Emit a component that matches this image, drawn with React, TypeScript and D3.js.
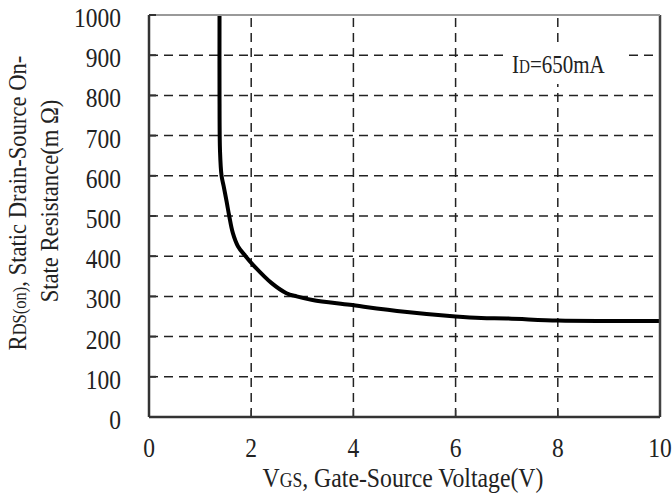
import React from "react";
import * as d3 from "d3";

const vgs = [1.38, 1.38, 1.39, 1.42, 1.46, 1.52, 1.57, 1.64, 1.74, 1.89, 2.04, 2.4, 2.69, 2.89, 3.2, 3.93, 5.0, 6.0, 6.5, 7.0, 8.0, 9.0, 10.0];
const rds = [1000, 800, 660, 600, 575, 535, 500, 458, 425, 400, 378, 333, 308, 300, 291, 279, 262, 250, 246, 245, 240, 239, 239];
const xTicks = [0, 2, 4, 6, 8, 10];
const yTicks = [0, 100, 200, 300, 400, 500, 600, 700, 800, 900, 1000];

const W = 672, H = 499;
const L = 149, R = 660, T = 15, B = 417;
const FONT = "'Liberation Serif', 'Times New Roman', serif";

export default function App() {
  const x = d3.scaleLinear().domain([0, 10]).range([L, R]);
  const y = d3.scaleLinear().domain([0, 1000]).range([B, T]);
  const pts = vgs.map((v, i) => [v, rds[i]] as [number, number]);
  const line = d3.line<[number, number]>().x(d => x(d[0])).y(d => y(d[1])).curve(d3.curveCatmullRom.alpha(0.5));

  return (
    <svg width={W} height={H} style={{ position: "absolute", left: 0, top: 0, background: "#fff" }} fontFamily={FONT}>
      <rect x={0} y={0} width={W} height={H} fill="#fff" />
      {/* gridlines */}
      {yTicks.filter(t => t > 0 && t < 1000).map(t => (
        <line key={"h" + t} x1={L} x2={R} y1={y(t)} y2={y(t)} stroke="#222" strokeWidth={1.5} strokeDasharray="9,6" />
      ))}
      {xTicks.filter(t => t > 0 && t < 10).map(t => (
        <line key={"v" + t} x1={x(t)} x2={x(t)} y1={B} y2={T} stroke="#222" strokeWidth={1.5} strokeDasharray="9,6" />
      ))}
      {/* annotation background */}
      <rect x={505} y={45} width={122} height={39} fill="#fff" />
      <text transform="translate(512,73) scale(0.84,1)" fontSize={25} fill="#222">
        I<tspan fontSize={18}>D</tspan>=650mA
      </text>
      {/* curve */}
      <path d={line(pts) || ""} fill="none" stroke="#000" strokeWidth={4} strokeLinejoin="round" />
      {/* frame */}
      <line x1={L} x2={L} y1={T} y2={B} stroke="#333" strokeWidth={2.5} />
      <line x1={L} x2={R} y1={B} y2={B} stroke="#333" strokeWidth={2.5} />
      <line x1={R} x2={R} y1={T} y2={B} stroke="#444" strokeWidth={2.5} />
      <line x1={L} x2={R} y1={T} y2={T} stroke="#999" strokeWidth={2} />
      {/* ticks */}
      {yTicks.map(t => (
        <line key={"yt" + t} x1={L} x2={L + 7} y1={y(t)} y2={y(t)} stroke="#333" strokeWidth={2} />
      ))}
      {xTicks.map(t => (
        <line key={"xt" + t} x1={x(t)} x2={x(t)} y1={B} y2={B - 7} stroke="#333" strokeWidth={1.5} />
      ))}
      {/* y tick labels */}
      {yTicks.map(t => (
        <text key={"yl" + t} transform={`translate(121,${y(t) + 12}) scale(0.87,1)`} textAnchor="end" fontSize={27} fill="#222">
          {t}
        </text>
      ))}
      {/* x tick labels */}
      {xTicks.map(t => (
        <text key={"xl" + t} transform={`translate(${x(t)},457) scale(0.87,1)`} textAnchor="middle" fontSize={27} fill="#222">
          {t}
        </text>
      ))}
      {/* x title */}
      <text transform="translate(403,487) scale(0.88,1)" textAnchor="middle" fontSize={27} fill="#222">
        V<tspan fontSize={20}>GS</tspan>, Gate-Source Voltage(V)
      </text>
      {/* y title */}
      <text transform="translate(26,203) rotate(-90) scale(0.87,1)" textAnchor="middle" fontSize={26} fill="#222">
        R<tspan fontSize={19}>DS(on)</tspan>, Static Drain-Source On-
      </text>
      <text transform="translate(58,201) rotate(-90) scale(0.87,1)" textAnchor="middle" fontSize={26} fill="#222">
        State Resistance(m Ω)
      </text>
    </svg>
  );
}
